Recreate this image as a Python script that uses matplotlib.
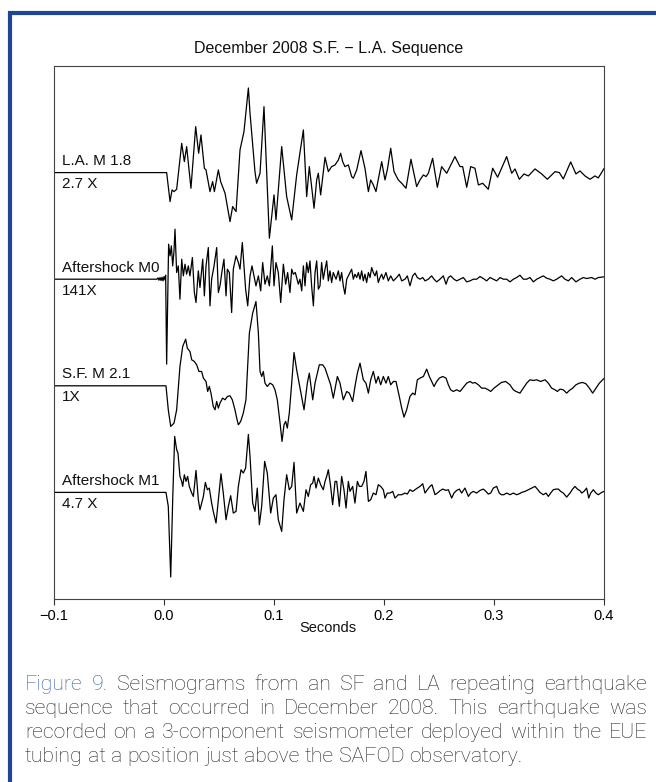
import matplotlib
matplotlib.use("Agg")
import matplotlib.pyplot as plt
import numpy as np
from matplotlib.lines import Line2D

# ---------------- data ----------------
title = "December 2008 S.F. \u2212 L.A. Sequence"
trace_names = ["L.A. M 1.8", "Aftershock M0", "S.F. M 2.1", "Aftershock M1"]
trace_gains = ["2.7 X", "141X", "1X", "4.7 X"]
x_label = "Seconds"
xticks = [-0.1, 0.0, 0.1, 0.2, 0.3, 0.4]
xtick_labels = ["\u22120.1", "0.0", "0.1", "0.2", "0.3", "0.4"]

# (time in ms, scaled amplitude)
la_trace = [(-100, 0), (2.4, 0), (5.5, -87), (7.3, -52), (9.1, -57), (11.5, -50), (16.1, 88), (18.5, 33),
            (20.6, 78), (24.5, -47), (28.8, 138), (31.5, 58), (33.6, 113), (36.7, 13), (38.2, 8), (41.8, -57),
            (44.2, -27), (45.8, -57), (49.4, 8), (51.5, -27), (55.5, -62), (60.0, -147), (62.4, -102),
            (65.5, -117), (69.1, 68), (72.7, 123), (76.7, 254), (78.2, 178), (82.7, 3), (84.2, -32), (87.3, -2),
            (90.9, 198), (95.8, -197), (100.0, -67), (101.8, -142), (107.0, 78), (111.5, -72), (116.1, -142),
            (120.6, -7), (126.7, 128), (129.7, -72), (132.1, 18), (134.2, -42), (136.4, -107), (138.8, -22),
            (140.3, -2), (142.4, -67), (146.4, 46), (149.4, 3), (152.4, 18), (155.5, 23), (158.5, 38),
            (160.6, 58), (162.4, 33), (164.5, 18), (167.6, 23), (170.6, -12), (172.1, -17), (175.2, 8),
            (179.1, 66), (182.7, 13), (185.8, -57), (187.9, -22), (190.3, -37), (192.7, -57), (197.9, 33),
            (200.9, -22), (203.0, 8), (206.1, 73), (209.1, 3), (213.0, -22), (216.1, -32), (220.0, -47),
            (224.5, 40), (229.7, -42), (232.7, -22), (235.8, -7), (238.2, -12), (240.3, -2), (244.2, 43),
            (248.5, -44), (252.4, 18), (257.0, -2), (264.5, 48), (269.1, 18), (271.5, 18), (275.2, -44),
            (278.8, 18), (282.7, 13), (285.8, -37), (289.7, -32), (294.8, -50), (298.8, 13), (303.3, -14),
            (311.5, 48), (316.1, -2), (319.1, 11), (323.0, -20), (327.3, -4), (331.2, -10), (337.3, 11),
            (343.3, -4), (348.5, -20), (355.5, 3), (359.4, 0), (363.0, -19), (369.7, 32), (374.5, -4),
            (378.2, 5), (382.7, -10), (387.3, -20), (391.8, -10), (394.8, -16), (400.0, 12)]

m0_trace = [(-100, 0), (-6.4, 0), (-5.5, 4), (-4.6, -3), (-3.6, 5), (-2.7, -4), (-1.8, 6), (-0.9, -5), (0.0, 8),
            (0.9, -2), (1.5, 12), (2.4, -255), (4.2, 105), (5.5, 70), (6.7, 100), (7.9, 40), (9.1, 85),
            (10.0, 150), (11.5, 20), (13.0, 40), (14.5, -60), (16.1, 60), (17.6, 10), (19.1, 45), (20.6, 15),
            (22.1, 40), (23.6, 10), (25.8, 65), (27.6, -40), (29.1, -70), (31.2, 25), (32.7, -25), (35.2, 60),
            (36.7, -50), (38.2, 40), (40.3, 95), (41.8, -80), (43.3, 0), (45.5, 40), (47.9, 95), (49.4, -40),
            (50.9, -20), (53.0, 30), (54.5, 60), (56.4, -50), (57.6, 30), (59.4, 20), (61.5, -100), (63.0, 30),
            (65.5, 70), (67.6, 50), (69.1, 30), (71.2, 110), (72.7, 40), (74.2, -30), (76.1, -80), (78.2, 10),
            (80.0, 40), (81.2, 20), (83.6, -20), (85.8, 10), (87.9, -35), (89.7, 50), (91.8, -15), (93.9, 10),
            (95.8, -20), (98.5, 100), (100.0, -20), (101.8, 50), (103.9, 20), (106.1, -70), (108.5, 45),
            (110.6, -15), (112.4, 20), (114.5, -40), (116.1, 30), (117.6, 15), (119.4, 20), (122.1, -15),
            (123.6, 0), (125.2, -35), (126.7, 40), (128.2, -20), (129.7, 50), (131.2, 20), (132.7, 55),
            (134.2, -20), (135.8, -80), (137.3, 20), (138.8, 55), (140.3, -30), (141.8, -20), (143.3, 50),
            (144.8, 0), (146.4, 30), (147.9, 55), (149.4, -5), (150.9, 25), (152.4, -10), (153.9, 20),
            (156.4, 0), (158.5, 25), (160.0, -5), (161.5, 20), (163.0, -20), (164.5, -45), (166.1, 0),
            (167.6, 10), (169.1, 20), (170.6, 30), (172.1, 0), (173.6, 15), (175.2, 5), (176.7, 20), (178.2, 0),
            (179.7, 25), (181.2, -5), (182.7, 15), (184.2, -10), (185.8, 20), (187.3, 5), (188.8, 35),
            (190.3, 20), (191.8, 10), (193.3, 25), (194.8, -10), (196.4, 5), (197.9, 15), (199.4, 0),
            (201.8, 20), (203.9, -5), (206.1, 10), (208.5, -5), (211.5, 5), (213.9, 15), (216.1, -5),
            (219.1, 0), (221.2, 10), (223.6, -20), (226.1, 10), (228.2, 18), (230.3, 5), (232.7, 0), (235.2, 5),
            (237.3, -5), (240.3, 0), (243.3, 10), (245.5, 0), (247.9, -8), (250.9, 0), (253.9, 10),
            (256.4, -15), (258.5, 5), (260.6, 10), (263.6, 0), (266.1, -5), (269.1, 0), (272.1, 5), (275.2, -8),
            (278.2, -5), (281.2, 0), (284.2, 0), (287.3, 8), (290.3, 2), (293.3, -5), (296.4, 5), (299.4, 0),
            (302.4, -5), (305.5, 5), (308.5, 0), (311.5, 0), (314.5, -8), (317.6, 0), (320.6, 5), (323.6, 12),
            (326.7, 0), (329.7, 0), (332.7, 5), (335.8, -8), (338.8, 0), (341.8, 5), (344.8, 10), (347.9, 3),
            (350.9, 0), (353.9, -5), (357.0, 0), (361.5, 10), (364.5, 0), (367.6, -5), (370.6, 5), (374.5, -8),
            (378.2, 0), (381.2, 5), (384.2, 2), (388.8, 5), (391.8, 0), (394.8, 5), (400.0, 7)]

sf_trace = [(-100, 0), (1.8, 0), (3.9, -72), (6.1, -122), (9.1, -112), (11.5, -72), (14.5, 58), (17.0, 118),
            (19.7, 140), (21.2, 113), (23.6, 103), (25.2, 78), (27.6, 73), (29.7, 63), (31.8, 43), (34.2, 43),
            (35.8, 23), (38.2, 13), (39.7, -17), (41.2, -2), (42.7, -22), (44.8, -62), (46.4, -72), (47.9, -47),
            (49.4, -67), (50.9, -52), (53.3, -37), (55.5, -42), (57.6, -32), (60.0, -30), (62.1, -42),
            (64.5, -72), (66.1, -97), (67.6, -117), (69.7, -107), (72.1, -82), (74.5, -42), (77.6, 158),
            (80.6, 218), (83.6, 253), (85.8, 158), (87.3, 43), (88.8, 28), (90.3, 43), (91.8, 8), (93.9, -2),
            (96.4, 8), (98.8, 3), (100.9, -12), (103.0, -42), (105.5, -112), (107.3, -167), (109.1, -117),
            (110.6, -107), (112.1, -127), (113.9, -82), (116.1, 8), (118.2, 100), (120.6, 48), (127.3, -72),
            (130.3, 8), (132.1, 38), (135.2, -42), (137.3, 8), (139.4, 38), (141.2, 63), (144.2, 63),
            (146.4, 53), (149.4, 23), (151.5, 3), (153.9, -37), (156.4, 8), (157.6, 28), (160.0, 8),
            (163.0, -42), (166.1, -17), (168.5, -22), (171.5, -47), (173.6, -2), (175.8, 38), (178.2, 68),
            (181.2, 18), (183.6, 8), (185.8, -22), (187.9, 18), (190.3, 43), (192.7, 8), (194.8, 28), (197.0, 3),
            (199.4, 28), (201.8, 8), (203.9, 28), (206.1, 3), (208.5, 13), (210.9, 13), (213.9, -32),
            (216.1, -67), (218.2, -94), (220.6, -72), (223.6, -32), (226.1, -22), (228.2, -27), (230.3, 18),
            (232.7, 23), (235.8, 28), (238.8, 50), (241.2, 28), (243.3, 13), (245.5, -2), (247.9, 13),
            (250.3, 23), (253.3, 28), (256.4, 23), (258.5, 3), (260.6, -12), (263.0, -17), (266.1, -12),
            (269.1, -17), (272.7, -2), (275.2, 8), (278.2, 13), (280.6, 8), (282.7, 10), (285.8, 3), (288.8, -7),
            (291.8, -7), (294.8, -12), (297.0, -17), (300.0, -7), (303.9, 3), (306.7, 10), (310.6, 13),
            (314.5, 3), (317.6, -12), (320.0, -17), (323.6, -22), (326.7, -7), (329.7, 8), (332.7, 18),
            (335.8, 16), (338.8, 18), (342.4, 13), (346.4, 18), (349.4, 8), (352.4, -7), (355.5, -12),
            (357.6, -17), (360.0, -10), (363.0, -12), (366.1, -22), (368.5, -14), (371.5, -7), (374.5, 3),
            (377.6, 8), (380.6, 10), (383.6, 6), (386.7, -7), (389.7, -22), (392.7, -7), (395.8, 8), (400.0, 22)]

m1_trace = [(-100, 0), (1.8, 0), (3.9, -42), (6.1, -254), (7.9, -22), (9.7, 168), (11.5, 128), (12.7, 118),
            (14.5, 48), (16.1, 33), (17.0, 18), (18.5, 53), (20.0, 33), (21.5, 48), (23.0, 18), (25.2, -2),
            (26.7, -12), (29.1, 66), (31.2, -22), (32.7, -52), (34.2, -32), (35.8, -12), (37.6, 30), (39.4, 8),
            (41.2, 13), (43.3, -32), (44.8, -57), (47.3, -92), (49.4, -22), (51.8, 56), (53.9, -2), (56.4, -82),
            (58.5, -42), (60.6, -10), (63.0, -62), (65.5, -57), (67.6, 18), (70.0, 68), (72.1, 58), (74.2, 73),
            (76.7, 174), (78.2, 108), (80.6, -32), (82.7, -57), (84.8, 13), (86.7, -97), (88.8, -42), (91.5, 93),
            (93.9, 58), (97.0, -62), (99.4, -17), (101.8, -7), (103.9, -82), (107.0, -117), (109.1, -22),
            (111.5, 53), (113.9, 8), (116.1, 18), (118.2, 90), (120.6, -62), (123.6, -32), (126.7, -57),
            (129.1, 8), (131.2, -12), (133.3, 23), (135.2, 28), (136.4, 48), (138.2, 13), (140.3, 43),
            (142.4, 23), (144.8, 8), (146.4, 33), (147.9, 48), (149.4, 68), (151.5, 18), (153.3, -37),
            (155.5, 33), (157.0, 33), (159.4, -42), (161.5, 48), (163.6, 8), (165.5, -47), (167.6, 33),
            (169.1, 3), (171.5, 18), (173.6, -32), (175.8, 33), (177.6, 18), (179.7, 18), (181.8, 33),
            (183.6, 63), (185.8, -27), (187.9, -22), (190.3, -2), (192.7, -7), (194.8, 23), (197.0, 18),
            (199.4, 8), (200.9, -17), (203.0, -2), (205.5, -2), (207.9, 3), (210.0, -17), (213.0, -7),
            (216.1, -7), (219.1, -2), (221.2, -5), (223.6, 8), (226.1, 3), (228.2, 8), (230.3, 13), (232.7, 18),
            (235.2, 26), (237.3, -2), (239.4, 8), (241.8, 18), (243.6, 23), (246.4, -7), (248.5, -2), (250.9, 5),
            (253.3, 10), (256.4, 6), (258.5, 8), (261.5, -17), (263.6, -2), (266.1, 6), (268.5, 10),
            (270.6, -2), (273.6, 13), (276.7, -12), (278.8, -2), (281.2, 3), (284.2, -2), (287.3, 6),
            (290.3, 10), (292.7, 3), (294.8, -5), (297.0, -2), (299.4, 13), (302.4, 18), (304.8, -2),
            (306.7, -7), (308.8, -7), (311.5, -2), (314.5, -7), (317.6, -2), (320.6, -7), (323.0, -4),
            (325.2, 0), (328.2, 3), (331.2, 8), (334.2, 13), (337.3, 18), (339.4, 10), (341.8, 0), (344.8, -7),
            (347.3, -2), (349.4, -12), (351.5, -2), (353.9, 8), (356.4, 10), (358.5, 10), (360.6, 3),
            (363.0, -2), (366.1, -14), (369.1, -2), (371.5, 10), (373.6, 18), (375.8, 10), (378.2, 5),
            (379.7, -2), (381.8, 3), (384.2, 13), (386.1, -17), (387.9, -2), (390.3, 8), (392.7, -2),
            (394.8, -7), (397.9, 0), (400.0, 3)]

traces = [la_trace, m0_trace, sf_trace, m1_trace]

caption_lines = [
    "Figure 9. Seismograms from an SF and LA repeating earthquake",
    "sequence that occurred in December 2008. This earthquake was",
    "recorded on a 3-component seismometer deployed within the EUE",
    "tubing at a position just above the SAFOD observatory.",
]

# ---------------- layout / style ----------------
W, H = 656, 782
FONT = ["Liberation Sans", "DejaVu Sans"]
CAP_FONT = ["Roboto", "DejaVu Sans"]
BLUE = "#1d4796"
CAP_BLUE = "#2f63b0"
CAP_GRAY = "#262626"

fig = plt.figure(figsize=(W / 100, H / 100), dpi=100)
fig.patch.set_facecolor("white")

# blue frame (top + left)
fig.add_artist(Line2D([8 / W, 1.0], [1 - 12.5 / H, 1 - 12.5 / H], transform=fig.transFigure,
                      color=BLUE, lw=3.0, solid_capstyle="butt"))
fig.add_artist(Line2D([10 / W, 10 / W], [1 - 11 / H, 0], transform=fig.transFigure,
                      color=BLUE, lw=3.0, solid_capstyle="butt"))

ax = fig.add_axes([54 / W, 1 - 599 / H, 550 / W, 533 / H])
spacing = 320
offsets = [3 * spacing, 2 * spacing, spacing, 0]

for pairs, off, name, gain in zip(traces, offsets, trace_names, trace_gains):
    t = np.array([p[0] for p in pairs], dtype=float) / 1000.0
    a = np.array([p[1] for p in pairs], dtype=float) + off
    ax.plot(t, a, color="black", lw=0.9, solid_joinstyle="round")
    ax.text(-0.0925, off + 34, name, fontsize=11, family=FONT, ha="left", va="center", color="#111111")
    ax.text(-0.0925, off - 34, gain, fontsize=11, family=FONT, ha="left", va="center", color="#111111")

ax.set_xlim(-0.1, 0.4)
ax.set_ylim(-spacing, 4 * spacing)
ax.set_yticks([])
ax.set_xticks(xticks)
ax.set_xticklabels(xtick_labels, family=FONT, fontsize=10.5)
ax.tick_params(axis="x", direction="out", length=4.5, width=0.8, pad=3, color="#333333")
for s in ax.spines.values():
    s.set_linewidth(0.8)
    s.set_color("#444444")

fig.text(329 / W, 1 - 48 / H, title, ha="center", va="center", fontsize=11.5, family=FONT, color="#111111")
fig.text(328 / W, 1 - 628 / H, x_label, ha="center", va="center", fontsize=10.5, family=FONT, color="#111111")

# ---------------- caption (justified) ----------------
renderer = fig.canvas.get_renderer()
CAP_SIZE = 15.3
x0, x1 = 25, 647
line_y = [684, 709, 733, 756]


def make_text(s, color):
    return fig.text(0, 0, s, fontsize=CAP_SIZE, family=CAP_FONT, fontweight="light",
                    color=color, ha="left", va="center")


probe1 = make_text("x x", CAP_GRAY)
probe2 = make_text("xx", CAP_GRAY)
space_w = probe1.get_window_extent(renderer).width - probe2.get_window_extent(renderer).width
probe1.remove()
probe2.remove()

for i, (line, y) in enumerate(zip(caption_lines, line_y)):
    words = line.split(" ")
    objs = []
    for j, w in enumerate(words):
        color = CAP_BLUE if (i == 0 and j < 2) else CAP_GRAY
        objs.append(make_text(w, color))
    widths = [o.get_window_extent(renderer).width for o in objs]
    if i < len(caption_lines) - 1:
        gap = (x1 - x0 - sum(widths)) / (len(words) - 1)
    else:
        gap = space_w
    x = x0
    for o, w in zip(objs, widths):
        o.set_position((x / W, 1 - y / H))
        x += w + gap

fig.savefig("out.png", dpi=100, facecolor="white")
